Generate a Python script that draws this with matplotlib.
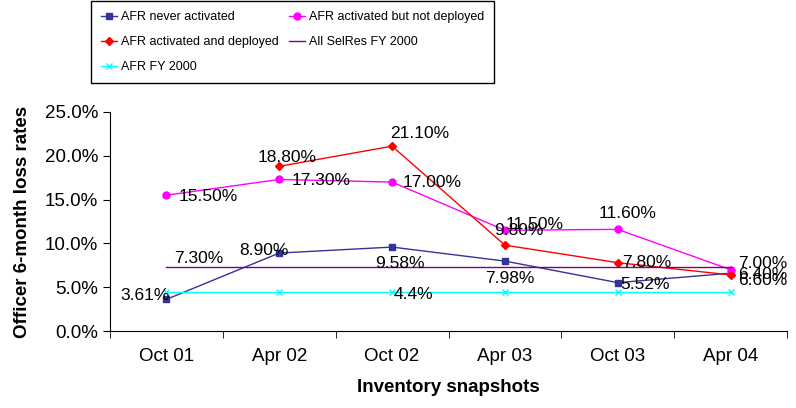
import numpy as np
import matplotlib
matplotlib.use("Agg")
from matplotlib import pyplot as plt

plt.rcParams['font.family'] = ['Liberation Sans', 'DejaVu Sans']

snapshots = ['Oct 01', 'Apr 02', 'Oct 02', 'Apr 03', 'Oct 03', 'Apr 04']

never_act = [3.61, 8.90, 9.58, 7.98, 5.52, 6.60]
act_not_dep = [15.50, 17.30, 17.00, 11.50, 11.60, 7.00]
act_dep = [np.nan, 18.80, 21.10, 9.80, 7.80, 6.40]
selres_fy00 = [7.30] * 6
afr_fy00 = [4.4] * 6

never_lbl = ['3.61%', '8.90%', '9.58%', '7.98%', '5.52%', '6.60%']
notdep_lbl = ['15.50%', '17.30%', '17.00%', '11.50%', '11.60%', '7.00%']
dep_lbl = [None, '18.80%', '21.10%', '9.80%', '7.80%', '6.40%']
selres_lbl = ['7.30%', None, None, None, None, None]
afr_lbl = [None, None, '4.4%', None, None, None]

# label placement (offset in pixels, horizontal alignment)
never_pos = [(3, 4, 'right'), (9, 3, 'right'), (8, -16, 'center'), (5, -17, 'center'), (3, -2, 'left'), (8, -7, 'left')]
notdep_pos = [(12, -1, 'left'), (12, -1, 'left'), (11, 0, 'left'), (1, 6, 'left'), (10, 16, 'center'), (8, 6, 'left')]
dep_pos = [None, (8, 9, 'center'), (28, 13, 'center'), (14, 15, 'center'), (4, 0, 'left'), (8, 0, 'left')]
selres_pos = [(8, 9, 'left')] + [None] * 5
afr_pos = [None, None, (2, -2, 'left'), None, None, None]

x = np.arange(len(snapshots))

fig = plt.figure(figsize=(7.96, 4.08), dpi=100)
ax = fig.add_axes([110/796, 1-331/408, 677/796, 219/408])

l1, = ax.plot(x, never_act, color='#333399', marker='s', ms=5, lw=1, label='AFR never activated')
l2, = ax.plot(x, act_not_dep, color='#FF00FF', marker='o', ms=5, lw=1, label='AFR activated but not deployed')
l3, = ax.plot(x, act_dep, color='#FF0000', marker='D', ms=4, lw=1, label='AFR activated and deployed')
l4, = ax.plot(x, selres_fy00, color='#800080', lw=1, label='All SelRes FY 2000')
l5, = ax.plot(x, afr_fy00, color='#00FFFF', marker='x', ms=5, lw=1, label='AFR FY 2000')

for vals, lbls, pos in [(never_act, never_lbl, never_pos), (act_not_dep, notdep_lbl, notdep_pos),
                        (act_dep, dep_lbl, dep_pos), (selres_fy00, selres_lbl, selres_pos),
                        (afr_fy00, afr_lbl, afr_pos)]:
    for i in range(len(vals)):
        if lbls[i] is None:
            continue
        dx, dy, ha = pos[i]
        ax.annotate(lbls[i], (x[i], vals[i]), xytext=(dx, dy), textcoords='offset pixels',
                    ha=ha, va='center', fontsize=12.5, color='black')

ax.set_xlim(-0.5, len(snapshots) - 0.5)
ax.set_ylim(0, 25)
ax.set_yticks(np.arange(0, 25.1, 5))
ax.set_yticklabels(['%.1f%%' % v for v in np.arange(0, 25.1, 5)], fontsize=13.5)
ax.set_xticks(x)
ax.set_xticklabels(snapshots, fontsize=13.5)
ax.set_xticks(np.arange(-0.5, len(snapshots)), minor=True)
ax.tick_params(axis='x', which='major', length=0, pad=12)
ax.tick_params(axis='x', which='minor', length=5, direction='out')
ax.tick_params(axis='y', length=5, direction='out')
ax.spines['top'].set_visible(False)
ax.spines['right'].set_visible(False)

ax.set_xlabel('Inventory snapshots', fontsize=13.5, fontweight='bold', labelpad=10)
ax.set_ylabel('Officer 6-month loss rates', fontsize=13.5, fontweight='bold', labelpad=10)

leg = fig.legend(handles=[l1, l3, l5, l2, l4], loc='upper left', bbox_to_anchor=(91/796, 1-1/408),
                 ncol=2, frameon=True, fancybox=False, framealpha=1, edgecolor='black',
                 prop={'size': 9}, borderaxespad=0,
                 handlelength=1.3, handletextpad=0.3, columnspacing=0.8, labelspacing=1.05,
                 borderpad=0.8)
leg.get_frame().set_linewidth(1)

fig.savefig('out.png', dpi=100)
